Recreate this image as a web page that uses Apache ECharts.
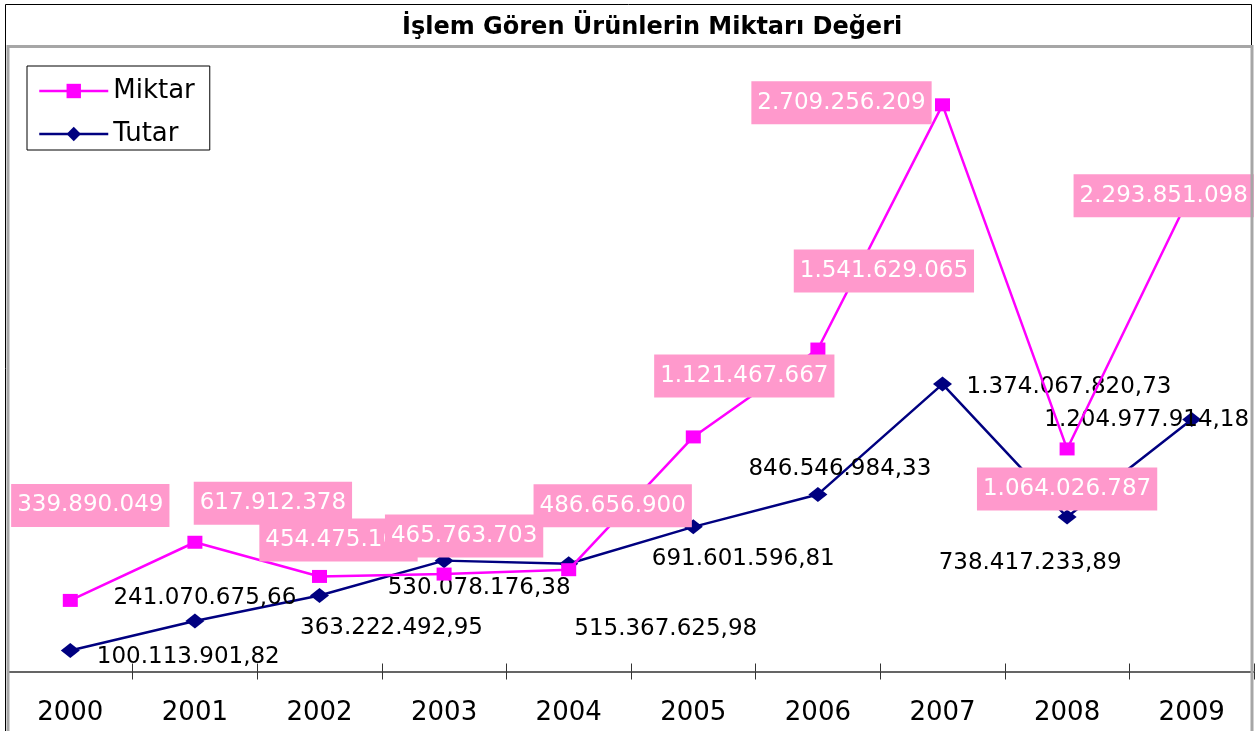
<!DOCTYPE html>
<html>
<head>
<meta charset="utf-8">
<script src="https://cdn.jsdelivr.net/npm/echarts@6/dist/echarts.min.js"></script>
<style>
html,body{margin:0;padding:0;background:#fff;}
#chart{width:1258px;height:731px;}
</style>
</head>
<body>
<div id="chart"></div>
<script>
const categories = ['2000','2001','2002','2003','2004','2005','2006','2007','2008','2009'];
const miktar = [339890049, 617912378, 454475160, 465763703, 486656900, 1121467667, 1541629065, 2709256209, 1064026787, 2293851098];
const tutar = [100113901.82, 241070675.66, 363222492.95, 530078176.38, 515367625.98, 691601596.81, 846546984.33, 1374067820.73, 738417233.89, 1204977914.18];
const seriesNames = ['Miktar', 'Tutar'];
const titleText = 'İşlem Gören Ürünlerin Miktarı Değeri';

// label placement (layout only)
const miktarLabelOffsets = [[20,-95],[78,-39],[19,-36.5],[20,-38],[44,-64],[51,-61],[66,-78],[-101,-2],[0,40],[-28,4]];
const tutarLabelOffsets = [[118,6.5],[10,-23],[72,32.5],[35,27],[97,65],[50,32],[22,-25.5],[126.5,3],[-37,46],[-45,1]];

function groupDigits(s){ return s.replace(/\B(?=(\d{3})+(?!\d))/g, '.'); }
function fmtInt(n){ return groupDigits(String(Math.round(n))); }
function fmtDec(n){ const p = n.toFixed(2).split('.'); return groupDigits(p[0]) + ',' + p[1]; }

const FONT = 'DejaVu Sans';
const chart = echarts.init(document.getElementById('chart'), null, {renderer:'canvas'});
chart.setOption({
  animation: false,
  backgroundColor: '#fff',
  title: {
    text: titleText,
    left: 397, top: 11,
    textStyle: {fontFamily: FONT, fontWeight: 'bold', fontSize: 24, color: '#000'}
  },
  legend: {
    data: seriesNames,
    orient: 'vertical',
    left: 27, top: 66,
    padding: [12, 15, 3, 11],
    itemWidth: 69, itemHeight: 18, itemGap: 17,
    backgroundColor: '#fff',
    borderColor: '#000', borderWidth: 1,
    lineStyle: {width: 2.5},
    textStyle: {fontFamily: FONT, fontSize: 26, color: '#000', lineHeight: 26}
  },
  grid: {left: 8, right: 4, top: 44, bottom: 59.5},
  xAxis: [{
    type: 'category', data: categories, boundaryGap: true,
    axisLine: {lineStyle: {color: '#333', width: 1.5}},
    axisTick: {show: true, length: 8, lineStyle: {color: '#333'}},
    axisLabel: {fontFamily: FONT, fontSize: 26, color: '#000', margin: 29}
  }, {
    type: 'category', data: categories, boundaryGap: true, position: 'bottom',
    axisLine: {show: false},
    axisTick: {show: true, inside: true, length: 8, lineStyle: {color: '#333'}},
    axisLabel: {show: false}
  }],
  yAxis: {
    type: 'value', min: 0, max: 3000000000, show: false,
    splitLine: {show: false}
  },
  graphic: [
    {type: 'rect', z: 100, silent: true, shape: {x: 5.5, y: 4.5, width: 1246, height: 800},
     style: {fill: 'none', stroke: '#000', lineWidth: 1}},
    {type: 'rect', z: 100, silent: true, shape: {x: 8, y: 46.5, width: 1244, height: 800},
     style: {fill: 'none', stroke: '#a6a6a6', lineWidth: 3}}
  ],
  series: [{
    name: seriesNames[0], type: 'line', z: 3,
    data: miktar.map((v, i) => ({value: v, label: {offset: miktarLabelOffsets[i]}})),
    symbol: 'rect', symbolSize: [15, 13],
    itemStyle: {color: '#FF00FF'},
    lineStyle: {color: '#FF00FF', width: 2.5},
    label: {
      show: true, position: 'inside', align: 'center', verticalAlign: 'middle',
      formatter: p => fmtInt(p.value),
      fontFamily: FONT, fontSize: 23, lineHeight: 23, color: '#fff',
      backgroundColor: '#FF99CC', padding: [10, 6, 10, 6]
    },
    emphasis: {disabled: true}
  }, {
    name: seriesNames[1], type: 'line', z: 2,
    data: tutar.map((v, i) => ({value: v, label: {offset: tutarLabelOffsets[i]}})),
    symbol: 'diamond', symbolSize: [19, 15],
    itemStyle: {color: '#000080'},
    lineStyle: {color: '#000080', width: 2.5},
    label: {
      show: true, position: 'inside', align: 'center', verticalAlign: 'middle',
      formatter: p => fmtDec(p.value),
      fontFamily: FONT, fontSize: 23, lineHeight: 23, color: '#000'
    },
    emphasis: {disabled: true}
  }]
});
</script>
</body>
</html>
